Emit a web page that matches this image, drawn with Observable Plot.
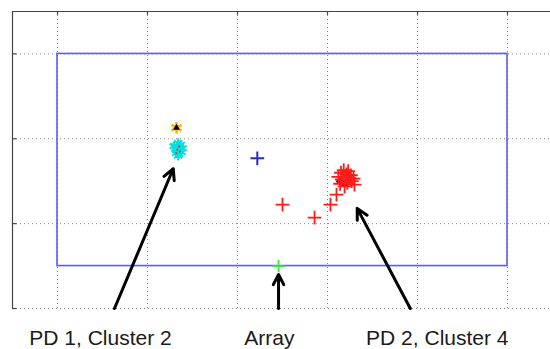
<!DOCTYPE html>
<html>
<head>
<meta charset="utf-8">
<script src="https://cdn.jsdelivr.net/npm/d3@7"></script>
<script src="https://cdn.jsdelivr.net/npm/@observablehq/plot@0.6"></script>
<style>
  html, body { margin: 0; padding: 0; background: #fff; overflow: hidden; }
  #chart { width: 550px; height: 349px; }
</style>
</head>
<body>
<div id="chart"></div>
<script>
// Grid / tick values
const xTicks = [0, 1, 2, 3, 4, 5];
const yTicks = [0, 1, 2, 3];
const xDomain = [-0.5, 5.5];
const yDomain = [0, 3.5];

// Array region (blue rectangle)
const regionX = [0, 5];
const regionY = [0.5, 3];

// PD 1, Cluster 2 (orange/black source and cyan cluster)
const pd1X = [1.322];
const pd1Y = [2.13];
const cyanX = [1.30, 1.32, 1.34, 1.36, 1.38, 1.31, 1.35, 1.37, 1.33, 1.39, 1.29, 1.36, 1.34, 1.32];
const cyanY = [1.92, 1.86, 1.95, 1.90, 1.84, 1.88, 1.82, 1.93, 1.87, 1.89, 1.91, 1.86, 1.80, 1.83];
const cyanRedX = [1.33, 1.36, 1.35, 1.32];
const cyanRedY = [1.87, 1.85, 1.91, 1.83];

// Blue marker
const blueX = [2.22];
const blueY = [1.77];

// Red crosses (track) and PD 2 cluster
const redX = [2.50, 2.856, 3.033, 3.10, 3.12, 3.15, 3.18, 3.21, 3.24, 3.27, 3.30, 3.16, 3.22, 3.26, 3.19, 3.29, 3.14, 3.23];
const redY = [1.224, 1.071, 1.224, 1.341, 1.55, 1.60, 1.63, 1.58, 1.54, 1.50, 1.46, 1.52, 1.48, 1.57, 1.44, 1.53, 1.47, 1.62];
const blackX = [3.12, 3.14, 3.16, 3.18, 3.20, 3.22, 3.15, 3.19];
const blackY = [1.50, 1.48, 1.47, 1.46, 1.46, 1.47, 1.51, 1.49];

// Array marker
const arrayX = [2.456];
const arrayY = [0.5];

// Annotation arrows
const arrowX1 = [0.633, 3.92, 2.456];
const arrowY1 = [0, 0, 0];
const arrowX2 = [1.286, 3.33, 2.456];
const arrowY2 = [1.647, 1.18, 0.40];

// Labels
const labels = ["PD 1, Cluster 2", "Array", "PD 2, Cluster 4"];
const labelX = [0.478, 2.355, 4.22];
const labelY = [-0.345, -0.345, -0.345];

const pts = (xs, ys) => xs.map((x, i) => ({x, y: ys[i]}));
const region = [{x1: regionX[0], x2: regionX[1], y1: regionY[0], y2: regionY[1]}];
const arrows = arrowX1.map((x1, i) => ({x1, y1: arrowY1[i], x2: arrowX2[i], y2: arrowY2[i]}));
const labelData = labels.map((t, i) => ({t, x: labelX[i], y: labelY[i]}));

const gridStyle = {stroke: "#888", strokeWidth: 1, strokeDasharray: "1,3"};

const plot = Plot.plot({
  width: 550,
  height: 349,
  x: {domain: xDomain, range: [12, 552], axis: null},
  y: {domain: yDomain, range: [308, 11], axis: null},
  style: {background: "#fff", fontFamily: "'Liberation Sans', Arial, sans-serif"},
  marks: [
    Plot.ruleX(xTicks, {x: d => d, y1: yDomain[0], y2: yDomain[1], ...gridStyle}),
    Plot.ruleY(yTicks, {y: d => d, x1: xDomain[0], x2: xDomain[1], ...gridStyle}),
    Plot.ruleX([xDomain[0]], {x: d => d, y1: yDomain[0], y2: yDomain[1], stroke: "#444", strokeWidth: 1.2}),
    Plot.ruleY([yDomain[1]], {y: d => d, x1: xDomain[0], x2: xDomain[1], stroke: "#444", strokeWidth: 1.2}),
    Plot.ruleX(xTicks, {x: d => d, y1: yDomain[1], y2: yDomain[1] - 0.045, stroke: "#444", strokeWidth: 1.2}),
    Plot.ruleY(yTicks, {y: d => d, x1: xDomain[0], x2: xDomain[0] + 0.05, stroke: "#444", strokeWidth: 1.2}),
    Plot.rect(region, {x1: "x1", x2: "x2", y1: "y1", y2: "y2", fill: "none", stroke: "#5a5aff", strokeWidth: 1.6}),
    Plot.dot(pts(cyanX, cyanY), {x: "x", y: "y", symbol: "asterisk", r: 4.5, stroke: "#00e0e0", strokeWidth: 1.8}),
    Plot.dot(pts(cyanRedX, cyanRedY), {x: "x", y: "y", r: 1, fill: "#e03030"}),
    Plot.dot(pts(pd1X, pd1Y), {x: "x", y: "y", symbol: "asterisk", r: 5.5, stroke: "#ffb000", strokeWidth: 2.5}),
    Plot.dot(pts(pd1X, pd1Y), {x: "x", y: "y", symbol: "triangle", r: 2.5, fill: "#000"}),
    Plot.dot(pts(blueX, blueY), {x: "x", y: "y", symbol: "plus", r: 4.5, stroke: "#2a2ad0", strokeWidth: 2}),
    Plot.dot(pts(blackX, blackY), {x: "x", y: "y", r: 2, fill: "#000"}),
    Plot.dot(pts(redX, redY), {x: "x", y: "y", symbol: "plus", r: 4.5, stroke: "#ff1a1a", strokeWidth: 1.8}),
    Plot.dot(pts(arrayX, arrayY), {x: "x", y: "y", symbol: "plus", r: 4, stroke: "#33ee33", strokeWidth: 1.8}),
    Plot.arrow(arrows, {x1: "x1", y1: "y1", x2: "x2", y2: "y2", stroke: "#000", strokeWidth: 3, headLength: 6, headAngle: 55}),
    Plot.text(labelData, {x: "x", y: "y", text: "t", fontSize: 21, fill: "#1a1a1a", textAnchor: "middle"})
  ]
});
document.getElementById("chart").appendChild(plot);
</script>
</body>
</html>
